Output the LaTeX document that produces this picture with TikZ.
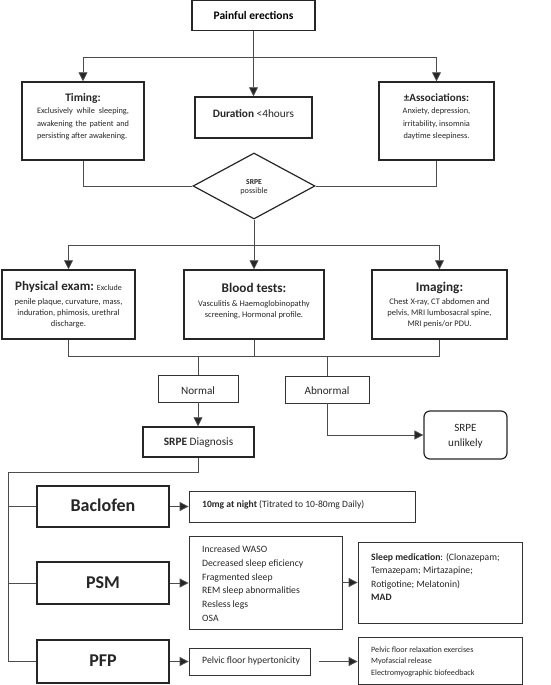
\documentclass[tikz,border=0pt]{standalone}
\usepackage{fontspec}
\setmainfont{Carlito}
\usetikzlibrary{arrows.meta,shapes.geometric}
\begin{document}
\begin{tikzpicture}[x=1pt,y=-1pt,
  box/.style={draw=black!85,line width=1.5pt,inner sep=0pt,align=center},
  thinbox/.style={draw=black!80,line width=0.8pt,inner sep=0pt,align=center},
  conn/.style={draw=black!70,line width=0.8pt},
  arr/.style={conn,-{Triangle[length=9pt,width=9pt,fill=black!85]}},
  txt/.style={inner sep=0pt,align=center,text=black!85},
  ltxt/.style={inner sep=0pt,align=left,anchor=west,text=black!85}]
\useasboundingbox (0,0) rectangle (550,685);
% ---- top part
\node[box,minimum width=123pt,minimum height=30pt] (top) at (253.5,15.5) {\fontsize{11.5}{13}\selectfont\bfseries Painful erections};
\node[box,minimum width=122pt,minimum height=78pt] (timing) at (83,121) {};
\node[txt,font={\fontsize{11.5}{13}\selectfont\bfseries}] (timingT) at (83,98) {Timing:};
\node[inner sep=0pt,text width=92pt,align=justify,text=black!85,font={\fontsize{8.3}{12.7}\selectfont}] (timingB) at (83,124) {Exclusively while sleeping, awakening the patient and persisting after awakening.};
\node[box,minimum width=117pt,minimum height=41pt] (dur) at (253.5,117.5) {};
\node[txt,font={\fontsize{11.3}{13}\selectfont}] (durT) at (253.5,113.5) {\textbf{Duration} <4hours};
\node[box,minimum width=115pt,minimum height=78pt] (assoc) at (436.5,121) {};
\node[txt,font={\fontsize{11}{13}\selectfont\bfseries}] (assocT) at (436.5,98) {±Associations:};
\node[txt,font={\fontsize{8.3}{12.7}\selectfont}] (assocB) at (436.5,124) {Anxiety, depression,\\irritability, insomnia\\daytime sleepiness.};
\node[draw=black!85,line width=1.2pt,diamond,minimum width=122pt,minimum height=66pt,inner sep=0pt] (dia) at (254,186) {};
\node[txt,font={\fontsize{8.2}{9.2}\selectfont}] (diaT) at (254,187.5) {{\fontsize{7.6}{9}\selectfont\textbf{SRPE}}\\possible};
\coordinate (j1) at (253.5,57);
\draw[arr] (top.south) -- (dur.north);
\draw[arr] (j1) -| (timing.north);
\draw[arr] (j1) -| (assoc.north);
\draw[conn] (timing.south) |- (dia.west);
\draw[conn] (assoc.south) |- (dia.east);
% ---- tests
\node[box,minimum width=133pt,minimum height=69pt] (phys) at (68.5,304.5) {};
\node[txt] (physT) at (68.5,287) {{\fontsize{13}{15}\selectfont\bfseries Physical exam:} {\fontsize{8}{9}\selectfont Exclude}};
\node[txt,font={\fontsize{8.5}{10.8}\selectfont}] (physB) at (68.5,313.5) {penile plaque, curvature, mass,\\induration, phimosis, urethral\\discharge.};
\node[box,minimum width=140pt,minimum height=69pt] (blood) at (254,304.5) {};
\node[txt,font={\fontsize{13.2}{15}\selectfont\bfseries}] (bloodT) at (254,288) {Blood tests:};
\node[txt,font={\fontsize{8.5}{10.8}\selectfont}] (bloodB) at (254,309.5) {Vasculitis \& Haemoglobinopathy\\screening, Hormonal profile.};
\node[box,minimum width=135pt,minimum height=69pt] (imag) at (439.5,304.5) {};
\node[txt,font={\fontsize{13.2}{15}\selectfont\bfseries}] (imagT) at (439.5,288) {Imaging:};
\node[txt,font={\fontsize{8.5}{10.8}\selectfont}] (imagB) at (439.5,313.5) {Chest X-ray, CT abdomen and\\pelvis, MRI lumbosacral spine,\\MRI penis/or PDU.};
\coordinate (j2) at (254,245);
\draw[arr] (dia.south) -- (blood.north);
\draw[arr] (j2) -| (phys.north);
\draw[arr] (j2) -| (imag.north);
\coordinate (j3a) at (68.5,356);
\coordinate (j3b) at (439.5,356);
\draw[conn] (phys.south) -- (j3a) -- (j3b) -- (imag.south);
\draw[conn] (blood.south) -- (254,356);
% ---- normal / abnormal
\node[thinbox,minimum width=80pt,minimum height=27pt] (normal) at (198,388.5) {};
\node[txt,font={\fontsize{11.2}{13}\selectfont}] (normalT) at (198,390.5) {Normal};
\node[thinbox,minimum width=84pt,minimum height=27pt] (abn) at (327,389.5) {};
\node[txt,font={\fontsize{11.2}{13}\selectfont}] (abnT) at (327,391) {Abnormal};
\draw[conn] (normal.north) -- (normal.north |- j3a);
\draw[conn] (abn.north) -- (abn.north |- j3a);
\node[box,minimum width=111pt,minimum height=30pt] (diag) at (198.5,442) {};
\node[txt,font={\fontsize{11.3}{13}\selectfont}] (diagT) at (198.5,442.3) {\textbf{SRPE} Diagnosis};
\draw[arr] (normal.south) -- (normal.south |- diag.north);
\node[draw=black!85,line width=1.2pt,rounded corners=6pt,minimum width=83pt,minimum height=48pt,inner sep=0pt] (unl) at (465.5,435) {};
\node[txt,font={\fontsize{11.1}{15}\selectfont}] (unlT) at (465.5,436.5) {SRPE\\unlikely};
\draw[arr] (abn.south) |- (unl.west);
% ---- treatments
\node[box,minimum width=132pt,minimum height=41pt] (bac) at (103,506.5) {};
\node[txt,font={\fontsize{18}{20}\selectfont\bfseries}] (bacT) at (103,505.5) {Baclofen};
\node[thinbox,minimum width=226pt,minimum height=31pt] (bact) at (302,506.5) {};
\node[ltxt,font={\fontsize{9.6}{11}\selectfont}] (bactT) at (202,504.5) {\textbf{10mg at night} (Titrated to 10-80mg Daily)};
\node[box,minimum width=132pt,minimum height=42pt] (psm) at (103,583) {};
\node[txt,font={\fontsize{18}{20}\selectfont\bfseries}] (psmT) at (103,582.5) {PSM};
\node[thinbox,minimum width=153pt,minimum height=93pt] (psml) at (265.5,582.5) {};
\node[ltxt,font={\fontsize{9.7}{13.8}\selectfont}] (psmlT) at (202,583.7) {Increased WASO\\Decreased sleep eficiency\\Fragmented sleep\\REM sleep abnormalities\\Resless legs\\OSA};
\node[thinbox,minimum width=164pt,minimum height=81pt] (slm) at (440,582.5) {};
\node[ltxt,font={\fontsize{9.7}{13.6}\selectfont}] (slmT) at (371,577) {\textbf{Sleep medication}: (Clonazepam;\\Temazepam; Mirtazapine;\\Rotigotine; Melatonin)\\\textbf{MAD}};
\node[box,minimum width=132pt,minimum height=43pt] (pfp) at (103,661.5) {};
\node[txt,font={\fontsize{18}{20}\selectfont\bfseries}] (pfpT) at (103,661) {PFP};
\node[thinbox,minimum width=121pt,minimum height=27pt] (hyp) at (249.5,661.5) {};
\node[ltxt,font={\fontsize{9.7}{11}\selectfont}] (hypT) at (202,661) {Pelvic floor hypertonicity};
\node[thinbox,minimum width=164pt,minimum height=47pt] (pfpt) at (440,660.5) {};
\node[ltxt,font={\fontsize{8.1}{11.4}\selectfont}] (pfptT) at (371,661.5) {Pelvic floor relaxation exercises\\Myofascial release\\Electromyographic biofeedback};
% connectors
\coordinate (d1) at (198.5,472);
\coordinate (d2) at (8,472);
\coordinate (d3) at (8,661.5);
\draw[conn] (diag.south) -- (d1) -- (d2) -- (d3) -- (pfp.west);
\draw[conn] (d2 |- bac.west) -- (bac.west);
\draw[conn] (d2 |- psm.west) -- (psm.west);
\draw[arr] (bac.east) -- (bact.west);
\draw[arr] (psm.east) -- (psm.east -| psml.west);
\draw[arr] (psml.east) -- (psml.east -| slm.west);
\draw[arr] (pfp.east) -- (hyp.west);
\draw[arr,shorten <=9pt] (hyp.east) -- (hyp.east -| pfpt.west);
\end{tikzpicture}
\end{document}
